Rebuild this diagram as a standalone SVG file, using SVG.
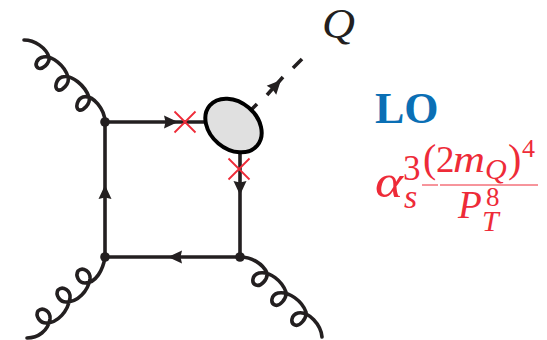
<svg xmlns="http://www.w3.org/2000/svg" width="547" height="340" viewBox="0 0 547 340">
<style>
.l{fill:none;stroke:#231f20;stroke-width:3.6;stroke-linecap:butt}
.g{fill:none;stroke:#231f20;stroke-width:3.6;stroke-linecap:round;stroke-linejoin:round}
.v{fill:#231f20}
.x{fill:none;stroke:#ee2b38;stroke-width:1.8}
.r{font-family:"Liberation Serif",serif;fill:#ee2b38}
.i{font-style:italic}
</style>
<defs>
<path id="ah" class="v" d="M0,0L-14,-6.500L-12.500,0L-14,6.500Z"/>
</defs>
<g id="connectors">
<path class="l" d="M105,122H208"/>
<path class="l" d="M105,122V257"/>
<path class="l" d="M105,257H240"/>
<path class="l" d="M240,152V257"/>
<path class="l" d="M248,113L257,104M267,95L283,77M293,68L302,59"/>
<use href="#ah" transform="translate(178,122)"/>
<use href="#ah" transform="translate(240,195) rotate(90)"/>
<use href="#ah" transform="translate(105,185) rotate(-90)"/>
<use href="#ah" transform="translate(168,257) rotate(180)"/>
<use href="#ah" transform="translate(281,80) rotate(-47)"/>
<path class="g" d="M24,40C35,40 46,48 49,57C50,64 42,70 38,68C34,65 37,58 43,57C52,55 65,66 68,77C70,84 62,91 58,90C54,88 56,79 62,77C72,74 85,86 89,97C91,104 83,111 79,110C75,108 77,99 83,97C93,94 105,110 105,122"/>
<path class="g" d="M105,257C103,270 96,283 85,283C79,283 75,276 78,271C83,266 91,272 90,279C88,291 78,302 66,302C60,302 55,295 58,290C63,285 71,291 70,298C68,311 58,323 46,323C40,323 35,316 38,311C43,306 51,312 50,319C48,331 38,338 27,338"/>
<path class="g" d="M240,257C252,257 263,264 267,273C268,280 260,287 256,285C251,283 252,275 259,273C270,271 282,281 286,292C287,299 279,307 275,305C270,303 271,295 278,293C289,291 302,301 306,312C307,319 299,327 295,325C290,323 291,315 298,313C309,311 321,325 322,337"/>
</g>
<g id="blob"><ellipse cx="233.5" cy="125.5" rx="31" ry="23.5" transform="rotate(40 233.5 125.5)" fill="#e0e0e0" stroke="#000" stroke-width="4"/></g>
<g id="v1"><circle class="v" cx="105" cy="122" r="4.8"/></g>
<g id="v2"><circle class="v" cx="105" cy="257" r="4.8"/></g>
<g id="v3"><circle class="v" cx="240" cy="257" r="4.8"/></g>
<g id="x1"><path class="x" d="M174.500,111.500L195.500,132.500M195.500,111.500L174.500,132.500"/></g>
<g id="x2"><path class="x" d="M228.500,158.500L249.500,179.500M249.500,158.500L228.500,179.500"/></g>
<g id="label-q"><text x="322" y="38" font-family="Liberation Serif,serif" font-style="italic" font-size="42" textLength="33" lengthAdjust="spacingAndGlyphs" fill="#231f20">Q</text></g>
<g id="label-lo"><text x="375" y="123" font-family="Liberation Serif,serif" font-weight="bold" font-size="44" fill="#0a6fb5">LO</text></g>
<g id="formula">
<text class="r i" x="375" y="197" font-size="46" textLength="28" lengthAdjust="spacingAndGlyphs">α</text>
<text class="r" x="403" y="180" font-size="35">3</text>
<text class="r i" x="404" y="208" font-size="34">s</text>
<text class="r" x="423" y="172" font-size="40">(</text>
<text class="r" x="436" y="172" font-size="37">2</text>
<text class="r i" x="453" y="172" font-size="37" textLength="32" lengthAdjust="spacingAndGlyphs">m</text>
<text class="r i" x="485" y="179" font-size="30">Q</text>
<text class="r" x="508" y="172" font-size="40">)</text>
<text class="r" x="522" y="157" font-size="26">4</text>
<path d="M422,185H438M440,185H538" fill="none" stroke="#ee2b38" stroke-width="1"/>
<text class="r i" x="458" y="218" font-size="39">P</text>
<text class="r" x="486" y="206" font-size="27">8</text>
<text class="r i" x="482" y="231" font-size="30">T</text>
</g>
</svg>
